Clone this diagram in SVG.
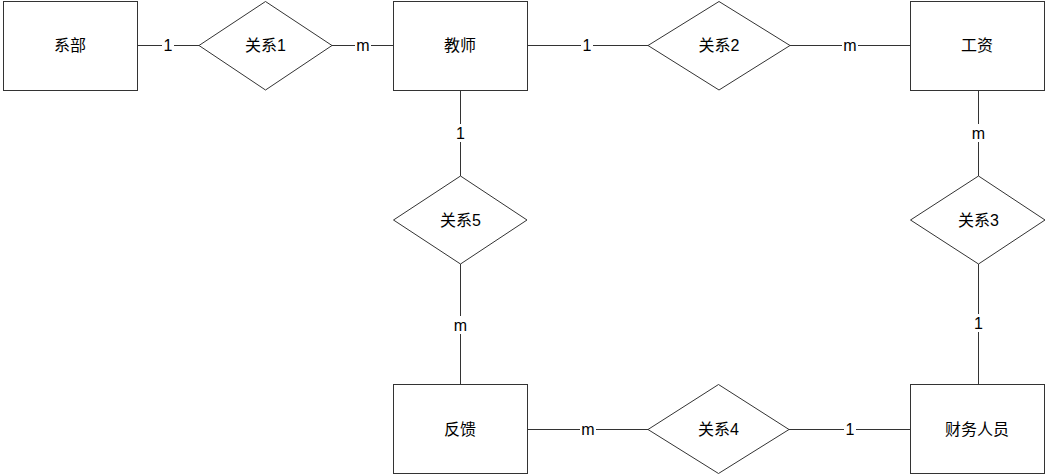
<svg xmlns="http://www.w3.org/2000/svg" width="1048" height="475" viewBox="0 0 1048 475">
<style>
.box{fill:#fff;stroke:#333;stroke-width:1}
.rel{fill:#fff;stroke:#333;stroke-width:1}
.line{stroke:#333;stroke-width:1;fill:none}
.bg{fill:#fff}
text{font-family:"Liberation Sans","Noto Sans CJK SC",sans-serif;font-size:16px;fill:#000;text-anchor:middle;dominant-baseline:central}
.card{font-size:16px}
</style>
<rect width="1048" height="475" fill="#fff"/>
<g id="connectors">
<line class="line" x1="137" y1="45.5" x2="199" y2="45.5"/>
<line class="line" x1="332" y1="45.5" x2="393" y2="45.5"/>
<line class="line" x1="527" y1="45.5" x2="648" y2="45.5"/>
<line class="line" x1="790" y1="45.5" x2="910" y2="45.5"/>
<line class="line" x1="460.5" y1="90" x2="460.5" y2="176"/>
<line class="line" x1="460.5" y1="264" x2="460.5" y2="384"/>
<line class="line" x1="978.5" y1="90" x2="978.5" y2="176"/>
<line class="line" x1="978.5" y1="264" x2="978.5" y2="384"/>
<line class="line" x1="527" y1="429.5" x2="648" y2="429.5"/>
<line class="line" x1="789" y1="429.5" x2="910" y2="429.5"/>
<rect class="bg" x="162" y="37" width="12" height="17"/><text class="card" x="168" y="45.5">1</text>
<rect class="bg" x="355" y="37" width="16" height="17"/><text class="card" x="363" y="45.5">m</text>
<rect class="bg" x="581" y="37" width="12" height="17"/><text class="card" x="587" y="45.5">1</text>
<rect class="bg" x="842" y="37" width="16" height="17"/><text class="card" x="850" y="45.5">m</text>
<rect class="bg" x="452" y="124" width="17" height="18"/><text class="card" x="460.5" y="133">1</text>
<rect class="bg" x="451" y="316" width="19" height="18"/><text class="card" x="460.5" y="325">m</text>
<rect class="bg" x="969" y="124" width="19" height="18"/><text class="card" x="978.5" y="133">m</text>
<rect class="bg" x="970" y="314" width="17" height="18"/><text class="card" x="978.5" y="323">1</text>
<rect class="bg" x="580" y="421" width="16" height="17"/><text class="card" x="588" y="429.5">m</text>
<rect class="bg" x="844" y="421" width="12" height="17"/><text class="card" x="850" y="429.5">1</text>
</g>
<g id="node-xibu"><rect class="box" x="3.5" y="1.5" width="134" height="89"/><text x="70" y="45.5">系部</text></g>
<g id="node-jiaoshi"><rect class="box" x="393.5" y="1.5" width="134" height="89"/><text x="460" y="45.5">教师</text></g>
<g id="node-gongzi"><rect class="box" x="910.5" y="1.5" width="134" height="89"/><text x="977" y="45.5">工资</text></g>
<g id="node-fankui"><rect class="box" x="393.5" y="384.5" width="134" height="89"/><text x="460" y="429">反馈</text></g>
<g id="node-caiwu"><rect class="box" x="910.5" y="384.5" width="134" height="89"/><text x="977" y="429">财务人员</text></g>
<g id="rel1"><polygon class="rel" points="265.5,1.5 332,45.5 265.5,90 199,45.5"/><text x="265.5" y="45.5">关系1</text></g>
<g id="rel2"><polygon class="rel" points="719,1.5 790,45.5 719,90 648,45.5"/><text x="719" y="45.5">关系2</text></g>
<g id="rel5"><polygon class="rel" points="460.5,176 527,220 460.5,264 393.5,220"/><text x="460.5" y="220">关系5</text></g>
<g id="rel3"><polygon class="rel" points="978.5,176 1045,220 978.5,264 910.5,220"/><text x="978.5" y="220">关系3</text></g>
<g id="rel4"><polygon class="rel" points="718.5,384.5 789,429.5 718.5,473.5 648,429.5"/><text x="718.5" y="429">关系4</text></g>
</svg>
